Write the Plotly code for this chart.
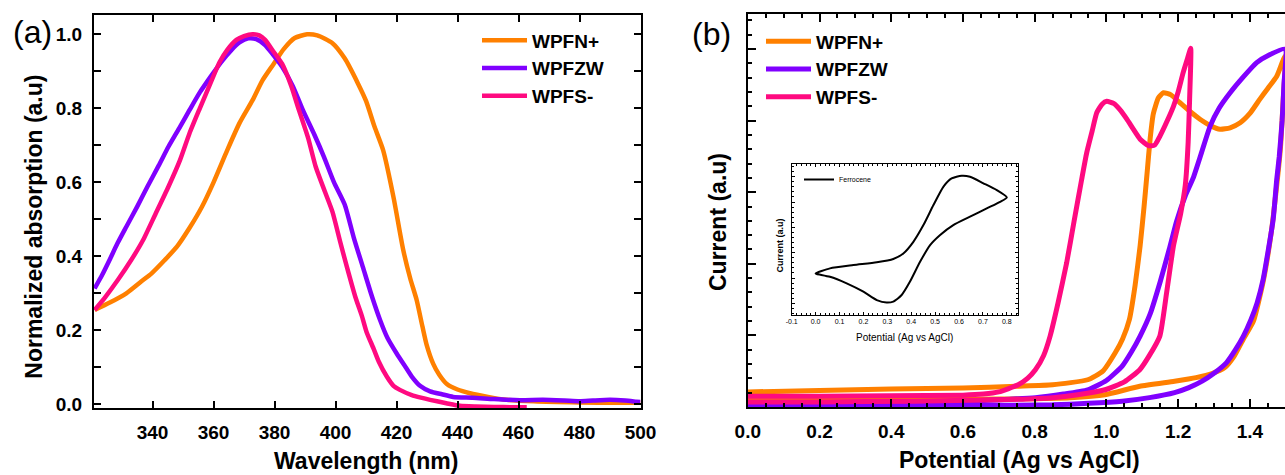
import plotly.graph_objects as go

# ---------------- Panel (a): normalized absorption ----------------
series_names = ["WPFN+", "WPFZW", "WPFS-"]

wl_fn = [321, 326, 331.4, 336, 339.7, 344, 348, 352, 356.2, 360, 364.5, 368.5, 372.8, 376, 379.7,
         383, 386.6, 390.7, 394, 399, 403, 407.3, 410, 412.8, 415.6, 419, 422.2, 424.5, 426.6,
         428.5, 429.9, 432, 434, 436.5, 440, 444.1, 450, 455, 465, 480, 493, 500]
abs_fn = [0.255, 0.275, 0.30, 0.33, 0.354, 0.39, 0.426, 0.475, 0.534, 0.60, 0.687, 0.76, 0.822,
          0.875, 0.92, 0.96, 0.99, 1.0, 0.997, 0.976, 0.935, 0.868, 0.82, 0.75, 0.687, 0.56,
          0.417, 0.34, 0.282, 0.21, 0.16, 0.11, 0.08, 0.055, 0.04, 0.03, 0.02, 0.013, 0.008,
          0.005, 0.004, 0.004]

wl_zw = [321, 323.5, 325.9, 328.5, 331.4, 335, 338.3, 342, 345.2, 349, 352.1, 355.5, 359, 362.5,
         365.9, 368.5, 371.4, 374, 376.9, 379.5, 382.5, 386, 389.3, 393, 396.2, 399.5, 403, 406,
         409, 412, 414.6, 417, 420, 423, 425, 427.7, 431, 434.9, 438.6, 445, 452, 460.5, 468,
         475, 480, 484.4, 490, 495, 498.7, 500]
abs_zw = [0.313, 0.35, 0.39, 0.435, 0.48, 0.535, 0.588, 0.645, 0.696, 0.75, 0.795, 0.843, 0.885,
          0.925, 0.958, 0.978, 0.989, 0.987, 0.971, 0.945, 0.912, 0.86, 0.795, 0.73, 0.669, 0.6,
          0.54, 0.45, 0.37, 0.29, 0.228, 0.18, 0.138, 0.1, 0.075, 0.05, 0.035, 0.027, 0.02,
          0.018, 0.014, 0.011, 0.012, 0.01, 0.008, 0.01, 0.012, 0.01, 0.007, 0.006]

wl_fs = [321, 324.5, 328.6, 333, 336.9, 341, 345.2, 349, 352.1, 355.5, 359, 362, 364.5, 367.5,
         370, 372.8, 375, 376.9, 379.5, 382.5, 385.5, 388, 391, 393.5, 396.5, 399, 401.5, 403.7,
         406.5, 408.7, 410.2, 412.5, 414.2, 416.8, 419, 421.1, 425, 428, 431, 436.3, 440.8, 446,
         452, 458, 462.7]
abs_fs = [0.255, 0.29, 0.336, 0.39, 0.444, 0.515, 0.588, 0.66, 0.732, 0.80, 0.868, 0.925, 0.958,
          0.985, 0.995, 1.0, 0.997, 0.985, 0.955, 0.92, 0.86, 0.795, 0.72, 0.642, 0.575, 0.52,
          0.44, 0.372, 0.29, 0.237, 0.195, 0.15, 0.115, 0.075, 0.05, 0.039, 0.025, 0.018, 0.012,
          0.003, -0.004, -0.006, -0.007, -0.008, -0.008]

wl_ticks = [340, 360, 380, 400, 420, 440, 460, 480, 500]
abs_ticks = [0.0, 0.1, 0.2, 0.3, 0.4, 0.5, 0.6, 0.7, 0.8, 0.9, 1.0]
abs_ticktext = ["0.0", "", "0.2", "", "0.4", "", "0.6", "", "0.8", "", "1.0"]

# ---------------- Panel (b): cyclic voltammetry ----------------
pot_fn = [0, 0.2, 0.4, 0.6, 0.75, 0.85, 0.948, 0.99, 1.025, 1.045, 1.064, 1.08, 1.094, 1.105,
          1.114, 1.122, 1.131, 1.145, 1.159, 1.18, 1.205, 1.235, 1.261, 1.29, 1.317, 1.345,
          1.373, 1.4, 1.428, 1.45, 1.475, 1.498,
          1.492, 1.485, 1.475, 1.46, 1.437, 1.41, 1.382, 1.355, 1.33, 1.296, 1.25, 1.19, 1.093,
          0.996, 0.9, 0.7, 0.4, 0.0]
cur_fn = [0.21, 0.23, 0.25, 0.265, 0.29, 0.31, 0.38, 0.5, 0.76, 0.95, 1.22, 1.7, 2.25, 2.8,
          3.3, 3.75, 4.1, 4.32, 4.39, 4.36, 4.25, 4.12, 4.02, 3.93, 3.88, 3.9, 3.97, 4.1, 4.3,
          4.45, 4.62, 4.9,
          4.2, 3.6, 3.1, 2.45, 1.75, 1.2, 0.95, 0.7, 0.55, 0.47, 0.41, 0.36, 0.29, 0.17, 0.13,
          0.11, 0.1, 0.1]

pot_zw = [0, 0.3, 0.6, 0.7, 0.802, 0.88, 0.948, 1.0, 1.044, 1.07, 1.094, 1.122, 1.15, 1.175,
          1.196, 1.22, 1.242, 1.265, 1.289, 1.315, 1.345, 1.38, 1.419, 1.455, 1.498,
          1.495, 1.49, 1.482, 1.475, 1.465, 1.45, 1.437, 1.42, 1.403, 1.382, 1.36, 1.335, 1.3,
          1.267, 1.23, 1.19, 1.12, 1.044, 0.95, 0.85, 0.6, 0.3, 0]
cur_zw = [0.05, 0.06, 0.08, 0.1, 0.13, 0.18, 0.24, 0.37, 0.57, 0.77, 0.99, 1.3, 1.75, 2.2, 2.6,
          2.95, 3.2, 3.55, 3.92, 4.18, 4.39, 4.6, 4.81, 4.92, 5.0,
          4.5, 4.0, 3.5, 3.18, 2.62, 2.15, 1.78, 1.45, 1.22, 0.99, 0.8, 0.62, 0.47, 0.36, 0.27,
          0.2, 0.13, 0.08, 0.05, 0.03, 0.02, 0.02, 0.02]

pot_fs = [0, 0.2, 0.4, 0.6, 0.657, 0.70, 0.754, 0.78, 0.802, 0.825, 0.843, 0.865, 0.889, 0.91,
          0.931, 0.945, 0.96, 0.973, 0.988, 1.001, 1.02, 1.04, 1.057, 1.075, 1.094, 1.117,
          1.135, 1.149, 1.168, 1.187, 1.2, 1.214, 1.225, 1.235,
          1.232, 1.228, 1.22, 1.207, 1.187, 1.168, 1.149, 1.12, 1.093, 1.05, 0.996, 0.92, 0.85,
          0.7, 0.463, 0.2, 0]
cur_fs = [0.15, 0.15, 0.155, 0.165, 0.18, 0.21, 0.31, 0.4, 0.52, 0.72, 0.99, 1.45, 2.01, 2.6,
          3.18, 3.55, 3.85, 4.11, 4.23, 4.27, 4.24, 4.14, 4.02, 3.88, 3.74, 3.65, 3.66, 3.78,
          3.98, 4.2, 4.4, 4.67, 4.85, 5.01,
          4.3, 3.7, 3.1, 2.7, 2.25, 1.6, 0.99, 0.72, 0.52, 0.35, 0.24, 0.17, 0.13, 0.1, 0.08,
          0.07, 0.07]

pot_ticks = [0.0, 0.2, 0.4, 0.6, 0.8, 1.0, 1.2, 1.4]
pot_ticktext = ["0.0", "0.2", "0.4", "0.6", "0.8", "1.0", "1.2", "1.4"]

# ---------------- Inset: ferrocene ----------------
fc_pot = [0.0, 0.06, 0.158, 0.256, 0.325, 0.367, 0.409, 0.451, 0.493, 0.535, 0.569, 0.611,
          0.646, 0.702, 0.758, 0.8,
          0.772, 0.716, 0.646, 0.576, 0.521, 0.479, 0.437, 0.395, 0.36, 0.325, 0.297, 0.256,
          0.2, 0.13, 0.06, 0.005, 0.0]
fc_cur = [1.18, 1.38, 1.51, 1.62, 1.75, 1.97, 2.43, 3.09, 3.88, 4.61, 4.93, 5.04, 5.0, 4.74,
          4.47, 4.18,
          4.01, 3.75, 3.42, 3.09, 2.7, 2.3, 1.64, 0.86, 0.33, 0.07, 0.03, 0.13, 0.46, 0.79,
          1.05, 1.16, 1.18]
fc_ticks = [-0.1, 0.0, 0.1, 0.2, 0.3, 0.4, 0.5, 0.6, 0.7, 0.8]
fc_ticktext = ["-0.1", "0.0", "0.1", "0.2", "0.3", "0.4", "0.5", "0.6", "0.7", "0.8"]

colors = ["#FF8000", "#8000FF", "#FF0A80"]

FONT = "Liberation Sans, Arial, sans-serif"
W, H = 1285, 475


def px(x):
    return x / W


def py(y):
    return (H - y) / H


fig = go.Figure()

left_x = [wl_fn, wl_zw, wl_fs]
left_y = [abs_fn, abs_zw, abs_fs]
for name, xs, ys, c in zip(series_names, left_x, left_y, colors):
    fig.add_trace(go.Scatter(x=xs, y=ys, name=name, mode="lines",
                             line=dict(color=c, width=4.5, shape="spline", smoothing=0.6),
                             xaxis="x", yaxis="y", legend="legend"))

right_x = [pot_fn, pot_zw, pot_fs]
right_y = [cur_fn, cur_zw, cur_fs]
for name, xs, ys, c in zip(series_names, right_x, right_y, colors):
    fig.add_trace(go.Scatter(x=xs, y=ys, name=name, mode="lines",
                             line=dict(color=c, width=5, shape="spline", smoothing=0.5),
                             xaxis="x2", yaxis="y2", legend="legend2"))

fig.add_trace(go.Scatter(x=fc_pot, y=fc_cur, name="Ferrocene", mode="lines",
                         line=dict(color="black", width=2, shape="spline", smoothing=0.6),
                         xaxis="x3", yaxis="y3", legend="legend3"))

tickfont = dict(family=FONT, size=19, color="black", weight="bold")
axis_common = dict(showline=True, linecolor="black", linewidth=2, ticks="inside",
                   tickcolor="black", tickwidth=2, showgrid=False, zeroline=False,
                   automargin=False)

fig.update_layout(
    width=W, height=H,
    margin=dict(l=0, r=0, t=0, b=0, autoexpand=False),
    paper_bgcolor="white", plot_bgcolor="white",
    font=dict(family=FONT, color="black"),
    xaxis=dict(domain=[px(94), px(640.5)], range=[320.8, 500], anchor="y",
               tickvals=wl_ticks, ticklen=7, mirror="ticks", tickfont=tickfont,
               ticklabelstandoff=6, **axis_common),
    yaxis=dict(domain=[py(408.3), py(15)], range=[-0.0108, 1.0522], anchor="x",
               tickvals=abs_ticks, ticktext=abs_ticktext, ticklen=7, mirror="ticks",
               tickfont=tickfont, ticklabelstandoff=6, **axis_common),
    xaxis2=dict(domain=[px(747.8), 1.0], range=[0, 1.498], anchor="y2",
                tickvals=pot_ticks, ticktext=pot_ticktext, ticklen=8, mirror="ticks",
                tickfont=tickfont, ticklabelstandoff=6,
                minor=dict(dtick=0.05, tick0=0, ticks="inside", ticklen=4, tickcolor="black",
                           tickwidth=2),
                **axis_common),
    yaxis2=dict(domain=[py(407.3), py(14)], range=[-0.005, 5.49], anchor="x2",
                dtick=1, tick0=0, ticklen=8, showticklabels=False, mirror=False,
                minor=dict(dtick=0.2, tick0=0, ticks="inside", ticklen=4, tickcolor="black",
                           tickwidth=2),
                **axis_common),
    xaxis3=dict(domain=[px(791.7), px(1018.3)], range=[-0.1, 0.848], anchor="y3",
                tickvals=fc_ticks, ticktext=fc_ticktext, showline=True, linecolor="black",
                linewidth=1, ticks="inside", ticklen=3, tickcolor="black", tickwidth=1,
                mirror="ticks", showgrid=False, zeroline=False, automargin=False,
                tickfont=dict(family=FONT, size=7, color="black"),
                minor=dict(dtick=0.02, tick0=0, ticks="inside", ticklen=2, tickcolor="black",
                           tickwidth=1)),
    yaxis3=dict(domain=[py(315), py(164.3)], range=[-0.46, 5.49], anchor="x3",
                dtick=1, tick0=0, showticklabels=False, showline=True, linecolor="black",
                linewidth=1, ticks="inside", ticklen=3, tickcolor="black", tickwidth=1,
                mirror="ticks", showgrid=False, zeroline=False, automargin=False,
                minor=dict(dtick=0.2, tick0=0, ticks="inside", ticklen=2, tickcolor="black",
                           tickwidth=1)),
    legend=dict(x=px(477), y=py(21.5), xanchor="left", yanchor="top",
                bgcolor="rgba(0,0,0,0)", itemwidth=45,
                font=dict(family=FONT, size=19, color="black", weight="bold"),
                tracegroupgap=0),
    legend2=dict(x=px(761), y=py(22.5), xanchor="left", yanchor="top",
                 bgcolor="rgba(0,0,0,0)", itemwidth=45,
                 font=dict(family=FONT, size=19, color="black", weight="bold"),
                 tracegroupgap=0),
    legend3=dict(x=px(799), y=py(165), xanchor="left", yanchor="top",
                 bgcolor="rgba(0,0,0,0)", itemwidth=30,
                 font=dict(family=FONT, size=7, color="black")),
    showlegend=True,
)

annotations = [
    dict(text="(a)", x=px(32.6), y=py(32), font=dict(family=FONT, size=32, color="black")),
    dict(text="(b)", x=px(711.7), y=py(34), font=dict(family=FONT, size=32, color="black")),
    dict(text="Normalized absorption (a.u)", x=px(33.7), y=py(227), textangle=-90,
         font=dict(family=FONT, size=23, color="black", weight="bold")),
    dict(text="Wavelength (nm)", x=px(366), y=py(461),
         font=dict(family=FONT, size=23, color="black", weight="bold")),
    dict(text="Current (a.u)", x=px(718), y=py(222), textangle=-90,
         font=dict(family=FONT, size=23, color="black", weight="bold")),
    dict(text="Potential (Ag vs AgCl)", x=px(1020), y=py(460),
         font=dict(family=FONT, size=23, color="black", weight="bold")),
    dict(text="Potential (Ag vs AgCl)", x=px(904), y=py(337.7),
         font=dict(family=FONT, size=10, color="black")),
    dict(text="Current (a.u)", x=px(779.5), y=py(245), textangle=-90,
         font=dict(family=FONT, size=9, color="black", weight="bold")),
]
for a in annotations:
    a.update(xref="paper", yref="paper", showarrow=False, xanchor="center", yanchor="middle")
fig.update_layout(annotations=annotations)

fig.write_html("out.html")
